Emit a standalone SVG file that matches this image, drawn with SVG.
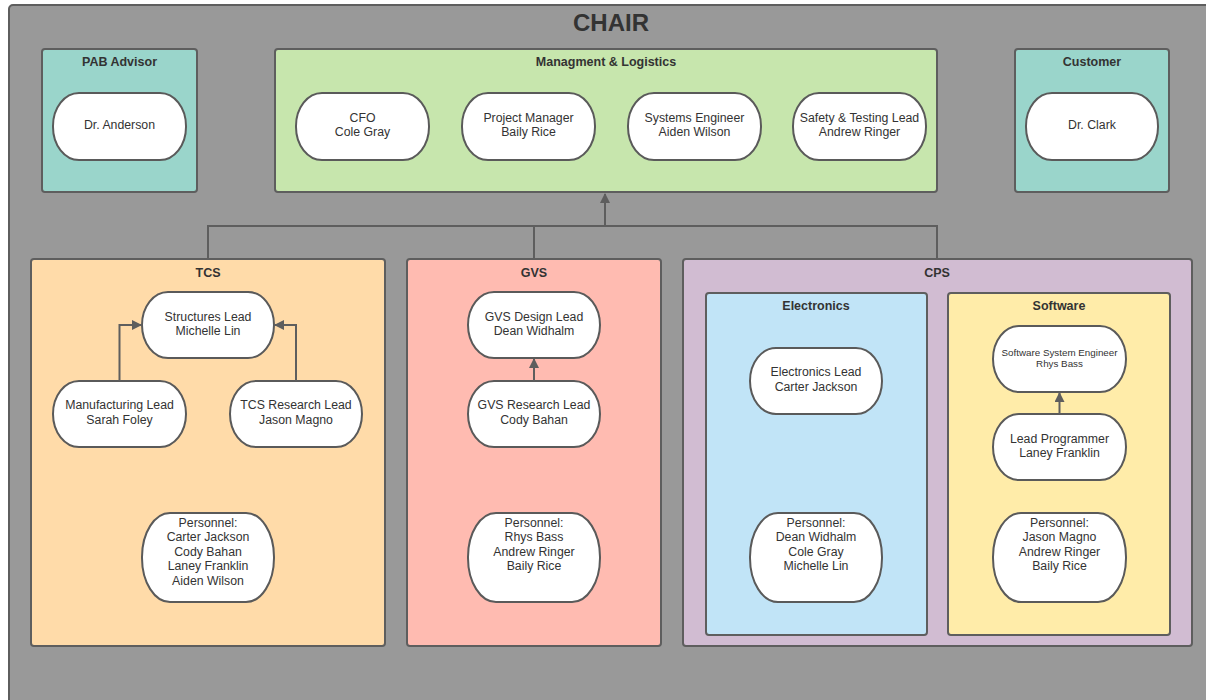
<svg xmlns="http://www.w3.org/2000/svg" width="1206" height="700" viewBox="0 0 1206 700">
<defs>
<style>
.frame{stroke:#5e5e5e;stroke-width:2}
.pill{fill:#ffffff;stroke:#5a5a5a;stroke-width:2}
.t{font-family:"Liberation Sans",Arial,sans-serif;font-size:12.3px;fill:#333333;text-anchor:middle}
.s{font-family:"Liberation Sans",Arial,sans-serif;font-size:9.8px;fill:#333333;text-anchor:middle}
.h{font-family:"Liberation Sans",Arial,sans-serif;font-size:12.5px;font-weight:bold;fill:#333333;text-anchor:middle}
.conn{fill:none;stroke:#5e5e5e;stroke-width:2}
</style>
<marker id="arr" viewBox="0 0 10 10" refX="9" refY="5" markerWidth="5" markerHeight="5" orient="auto" markerUnits="strokeWidth">
<path d="M0,0 L10,5 L0,10 z" fill="#5e5e5e"/>
</marker>
</defs>

<g id="chair">
<rect x="9" y="5" width="1215" height="715" rx="4" fill="#999999" class="frame"/>
<text x="611" y="31" font-family="Liberation Sans,Arial,sans-serif" font-size="24" font-weight="bold" fill="#333333" text-anchor="middle">CHAIR</text>
</g>

<g id="pab">
<rect x="42" y="49" width="155" height="143" rx="3" fill="#9ad5cb" class="frame"/>
<text class="h" x="119.5" y="65.5">PAB Advisor</text>
<rect class="pill" x="53" y="93" width="133" height="67" rx="26" ry="33"/>
<text class="t" x="119.5" y="129">Dr. Anderson</text>
</g>

<g id="management">
<rect x="275" y="49" width="662" height="143" rx="3" fill="#c7e6ad" class="frame"/>
<text class="h" x="606" y="65.5">Managment &amp; Logistics</text>
</g>
<g id="cfo">
<rect class="pill" x="296" y="93" width="133" height="67" rx="26" ry="33"/>
<text class="t" x="362.5" y="121.5">CFO</text><text class="t" x="362.5" y="136">Cole Gray</text>
</g>
<g id="pm">
<rect class="pill" x="462" y="93" width="133" height="67" rx="26" ry="33"/>
<text class="t" x="528.5" y="121.5">Project Manager</text><text class="t" x="528.5" y="136">Baily Rice</text>
</g>
<g id="se">
<rect class="pill" x="628" y="93" width="133" height="67" rx="26" ry="33"/>
<text class="t" x="694.5" y="121.5">Systems Engineer</text><text class="t" x="694.5" y="136">Aiden Wilson</text>
</g>
<g id="safety">
<rect class="pill" x="793" y="93" width="133" height="67" rx="26" ry="33"/>
<text class="t" x="859.5" y="121.5">Safety &amp; Testing Lead</text><text class="t" x="859.5" y="136">Andrew Ringer</text>
</g>

<g id="customer">
<rect x="1015" y="49" width="154" height="143" rx="3" fill="#9ad5cb" class="frame"/>
<text class="h" x="1092" y="65.5">Customer</text>
<rect class="pill" x="1026" y="93" width="132" height="67" rx="26" ry="33"/>
<text class="t" x="1092" y="129">Dr. Clark</text>
</g>

<g id="tcs">
<rect x="31" y="259" width="354" height="387" rx="3" fill="#ffdba9" class="frame"/>
<text class="h" x="208" y="276.5">TCS</text>
</g>
<g id="structures">
<rect class="pill" x="142" y="292" width="132" height="66" rx="26" ry="33"/>
<text class="t" x="208" y="320.5">Structures Lead</text><text class="t" x="208" y="335">Michelle Lin</text>
</g>
<g id="manufacturing">
<rect class="pill" x="53" y="381" width="133" height="66" rx="26" ry="33"/>
<text class="t" x="119.5" y="409">Manufacturing Lead</text><text class="t" x="119.5" y="423.5">Sarah Foley</text>
</g>
<g id="tcsresearch">
<rect class="pill" x="230" y="381" width="132" height="66" rx="26" ry="33"/>
<text class="t" x="296" y="409">TCS Research Lead</text><text class="t" x="296" y="423.5">Jason Magno</text>
</g>
<g id="tcspersonnel">
<rect class="pill" x="142" y="513" width="132" height="89" rx="28" ry="44"/>
<text class="t" x="208" y="526.5">Personnel:</text>
<text class="t" x="208" y="541">Carter Jackson</text>
<text class="t" x="208" y="555.5">Cody Bahan</text>
<text class="t" x="208" y="570">Laney Franklin</text>
<text class="t" x="208" y="584.5">Aiden Wilson</text>
</g>

<g id="gvs">
<rect x="407" y="259" width="254" height="387" rx="3" fill="#ffbbb1" class="frame"/>
<text class="h" x="534" y="276.5">GVS</text>
</g>
<g id="gvsdesign">
<rect class="pill" x="468" y="292" width="132" height="66" rx="26" ry="33"/>
<text class="t" x="534" y="320.5">GVS Design Lead</text><text class="t" x="534" y="335">Dean Widhalm</text>
</g>
<g id="gvsresearch">
<rect class="pill" x="468" y="381" width="132" height="66" rx="26" ry="33"/>
<text class="t" x="534" y="409">GVS Research Lead</text><text class="t" x="534" y="423.5">Cody Bahan</text>
</g>
<g id="gvspersonnel">
<rect class="pill" x="468" y="513" width="132" height="89" rx="28" ry="44"/>
<text class="t" x="534" y="526.5">Personnel:</text>
<text class="t" x="534" y="541">Rhys Bass</text>
<text class="t" x="534" y="555.5">Andrew Ringer</text>
<text class="t" x="534" y="570">Baily Rice</text>
</g>

<g id="cps">
<rect x="683" y="259" width="509" height="387" rx="3" fill="#d1bcd2" class="frame"/>
<text class="h" x="937" y="276.5">CPS</text>
</g>
<g id="electronics">
<rect x="706" y="293" width="221" height="342" rx="3" fill="#c1e4f7" class="frame"/>
<text class="h" x="816" y="309.5">Electronics</text>
</g>
<g id="electronicslead">
<rect class="pill" x="750" y="348" width="132" height="66" rx="26" ry="33"/>
<text class="t" x="816" y="375.5">Electronics Lead</text><text class="t" x="816" y="390.5">Carter Jackson</text>
</g>
<g id="electronicspersonnel">
<rect class="pill" x="750" y="513" width="132" height="89" rx="28" ry="44"/>
<text class="t" x="816" y="526.5">Personnel:</text>
<text class="t" x="816" y="541">Dean Widhalm</text>
<text class="t" x="816" y="555.5">Cole Gray</text>
<text class="t" x="816" y="570">Michelle Lin</text>
</g>
<g id="software">
<rect x="948" y="293" width="222" height="342" rx="3" fill="#ffeca9" class="frame"/>
<text class="h" x="1059" y="309.5">Software</text>
</g>
<g id="swengineer">
<rect class="pill" x="993" y="326" width="133" height="66" rx="26" ry="33"/>
<text class="s" x="1059.5" y="355.5">Software System Engineer</text><text class="s" x="1059.5" y="367">Rhys Bass</text>
</g>
<g id="leadprogrammer">
<rect class="pill" x="993" y="414" width="133" height="66" rx="26" ry="33"/>
<text class="t" x="1059.5" y="442.5">Lead Programmer</text><text class="t" x="1059.5" y="457">Laney Franklin</text>
</g>
<g id="softwarepersonnel">
<rect class="pill" x="993" y="513" width="133" height="89" rx="28" ry="44"/>
<text class="t" x="1059.5" y="526.5">Personnel:</text>
<text class="t" x="1059.5" y="541">Jason Magno</text>
<text class="t" x="1059.5" y="555.5">Andrew Ringer</text>
<text class="t" x="1059.5" y="570">Baily Rice</text>
</g>

<g id="connectors">
<path class="conn" d="M208,259 V226 H937 V259"/>
<path class="conn" d="M534,259 V226"/>
<path class="conn" d="M605,226 V194" marker-end="url(#arr)"/>
<path class="conn" d="M119.5,381 V325 H141" marker-end="url(#arr)"/>
<path class="conn" d="M296,381 V325 H275" marker-end="url(#arr)"/>
<path class="conn" d="M534,381 V359" marker-end="url(#arr)"/>
<path class="conn" d="M1059.5,414 V393" marker-end="url(#arr)"/>
</g>
</svg>
